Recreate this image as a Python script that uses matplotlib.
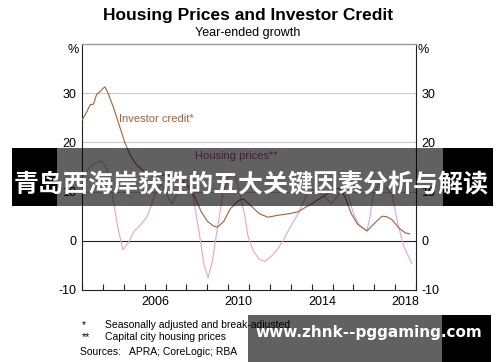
import matplotlib
matplotlib.use("Agg")
import matplotlib.pyplot as plt
from matplotlib.patches import Rectangle

# year-ended growth, %
credit_years = [2003.0, 2003.2, 2003.4, 2003.55, 2003.7, 2003.85, 2004.0, 2004.1, 2004.25,
                2004.5, 2004.8, 2005.05, 2005.3, 2005.6, 2006.0, 2006.5, 2007.0, 2007.5,
                2008.0, 2008.4, 2008.7, 2009.0, 2009.3, 2009.5, 2009.8, 2010.1, 2010.5,
                2010.75, 2011.0, 2011.5, 2011.9, 2012.4, 2012.9, 2013.35, 2013.7, 2014.0,
                2014.5, 2014.9, 2015.3, 2015.6, 2015.9, 2016.2, 2016.65, 2017.0, 2017.37,
                2017.6, 2017.85, 2018.2, 2018.5, 2018.7]
credit_vals = [24.5, 26.0, 27.7, 27.8, 29.8, 30.3, 31.0, 31.3, 30.0,
               27.2, 23.3, 20.0, 17.5, 15.5, 14.0, 13.0, 13.5, 13.0,
               11.5, 9.0, 6.0, 4.0, 3.0, 2.8, 4.0, 6.5, 8.2,
               8.5, 7.5, 5.5, 4.8, 5.2, 5.5, 5.9, 6.8, 7.5,
               8.9, 10.0, 10.7, 9.0, 5.5, 3.4, 2.0, 3.5, 5.0,
               4.9, 4.3, 2.5, 1.6, 1.4]

house_years = [2003.0, 2003.5, 2003.95, 2004.2, 2004.45, 2004.7, 2004.96, 2005.2, 2005.5,
               2005.75, 2006.1, 2006.3, 2006.5, 2006.8, 2007.05, 2007.3, 2007.55, 2007.8,
               2008.05, 2008.3, 2008.6, 2008.85, 2009.04, 2009.25, 2009.5, 2009.75, 2010.0,
               2010.3, 2010.55, 2010.8, 2010.95, 2011.2, 2011.5, 2011.77, 2012.1, 2012.4,
               2012.63, 2013.0, 2013.35, 2013.78, 2014.1, 2014.5, 2014.95, 2015.3, 2015.55,
               2015.75, 2016.0, 2016.3, 2016.65, 2016.8, 2016.95, 2017.2, 2017.5, 2017.85,
               2018.1, 2018.4, 2018.8]
house_vals = [13.0, 15.5, 16.3, 14.5, 9.5, 3.0, -1.8, -0.5, 2.0,
              3.0, 4.8, 7.0, 9.5, 11.5, 9.5, 7.5, 9.5, 12.0,
              12.5, 9.5, 2.0, -5.0, -7.5, -4.0, 3.0, 9.5, 13.0,
              13.5, 10.0, 5.0, 1.0, -2.0, -3.8, -4.2, -3.0, -1.5,
              0.0, 3.0, 5.5, 9.5, 10.5, 9.5, 7.5, 9.5, 11.0,
              9.5, 5.5, 3.0, 2.0, 5.0, 9.5, 11.5, 11.0, 9.5,
              4.0, -1.0, -4.6]

year_ticks = list(range(2003, 2020))
label_years = [2006, 2010, 2014, 2018]
y_ticks = [-10, 0, 10, 20, 30]

brown = "#a3623a"
pink = "#e6a2d6"
font = "Liberation Sans"

plt.rcParams['font.family'] = [font, 'DejaVu Sans']

fig = plt.figure(figsize=(5, 3.62), dpi=100)
ax = fig.add_axes([0.164, 0.199, 0.668, 0.679])

ax.plot(house_years, house_vals, color=pink, lw=0.8, zorder=3)
ax.plot(credit_years, credit_vals, color=brown, lw=0.8, zorder=4)

ax.set_xlim(2003, 2019)
ax.set_ylim(-10, 40)
for v in [10, 20, 30]:
    ax.axhline(v, color="#c9c9c9", lw=0.8, zorder=1)
ax.axhline(0, color="#222222", lw=0.8, zorder=2)

# year ticks on boundaries, labels mid-year
ax.set_xticks(year_ticks)
ax.set_xticklabels([])
ax.set_xticks([y + 0.5 for y in label_years], minor=True)
ax.set_xticklabels([str(y) for y in label_years], minor=True, fontsize=9)
ax.tick_params(axis="x", which="major", direction="in", length=4, width=0.8,
               color="#222222", top=False)
ax.tick_params(axis="x", which="minor", length=0, pad=4)

ax.set_yticks(y_ticks)
ax.set_yticklabels([str(v) for v in y_ticks], fontsize=9)
ax.tick_params(axis="y", length=0, pad=4, left=True, right=True,
               labelleft=True, labelright=True)

for side in ["left", "right", "bottom"]:
    ax.spines[side].set_color("#222222")
    ax.spines[side].set_linewidth(0.8)
ax.spines["top"].set_color("#999999")
ax.spines["top"].set_linewidth(1.0)

ax.text(2004.77, 24.8, "Investor credit*", color=brown, fontsize=8, ha="left", va="center")
ax.text(2008.41, 17.2, "Housing prices**", color="#b05090", fontsize=8, ha="left", va="center")

fig.text(0.158, 0.862, "%", fontsize=9, ha="right", va="center")
fig.text(0.836, 0.862, "%", fontsize=9, ha="left", va="center")

fig.text(0.496, 0.957, "Housing Prices and Investor Credit", fontsize=12.5,
         fontweight="bold", ha="center", va="center")
fig.text(0.496, 0.909, "Year-ended growth", fontsize=9, ha="center", va="center")

fig.text(0.164, 0.103, "*", fontsize=7.5, ha="left", va="center")
fig.text(0.21, 0.103, "Seasonally adjusted and break-adjusted", fontsize=7.5, ha="left", va="center")
fig.text(0.164, 0.068, "**", fontsize=7.5, ha="left", va="center")
fig.text(0.21, 0.068, "Capital city housing prices", fontsize=7.5, ha="left", va="center")
fig.text(0.16, 0.028, "Sources:   APRA; CoreLogic; RBA", fontsize=7.5, ha="left", va="center")

# overlay banners
W, H = 500.0, 362.0

def box(x0, x1, ytop, ybot, color, alpha):
    fig.add_artist(Rectangle((x0 / W, 1 - ybot / H), (x1 - x0) / W, (ybot - ytop) / H,
                             transform=fig.transFigure, facecolor=color, alpha=alpha,
                             edgecolor="none", zorder=10))

box(12, 57, 148, 206, "black", 1.0)
box(57, 443, 148, 206, "black", 0.62)
box(443, 493, 148, 206, "black", 1.0)
fig.text(251 / W, 1 - 185 / H, "青岛西海岸获胜的五大关键因素分析与解读", color="white",
         fontsize=18, fontweight="bold", ha="center", va="center", zorder=11,
         family=["Noto Sans CJK SC", "DejaVu Sans"])

box(248, 442, 315, 362, "black", 0.62)
box(442, 491, 315, 362, "black", 1.0)
fig.text(369 / W, 1 - 332 / H, "www.zhnk--pggaming.com", color="white",
         fontsize=11, fontweight="bold", ha="center", va="center", zorder=11,
         family=["DejaVu Sans"])

fig.savefig("out.png", dpi=100)
